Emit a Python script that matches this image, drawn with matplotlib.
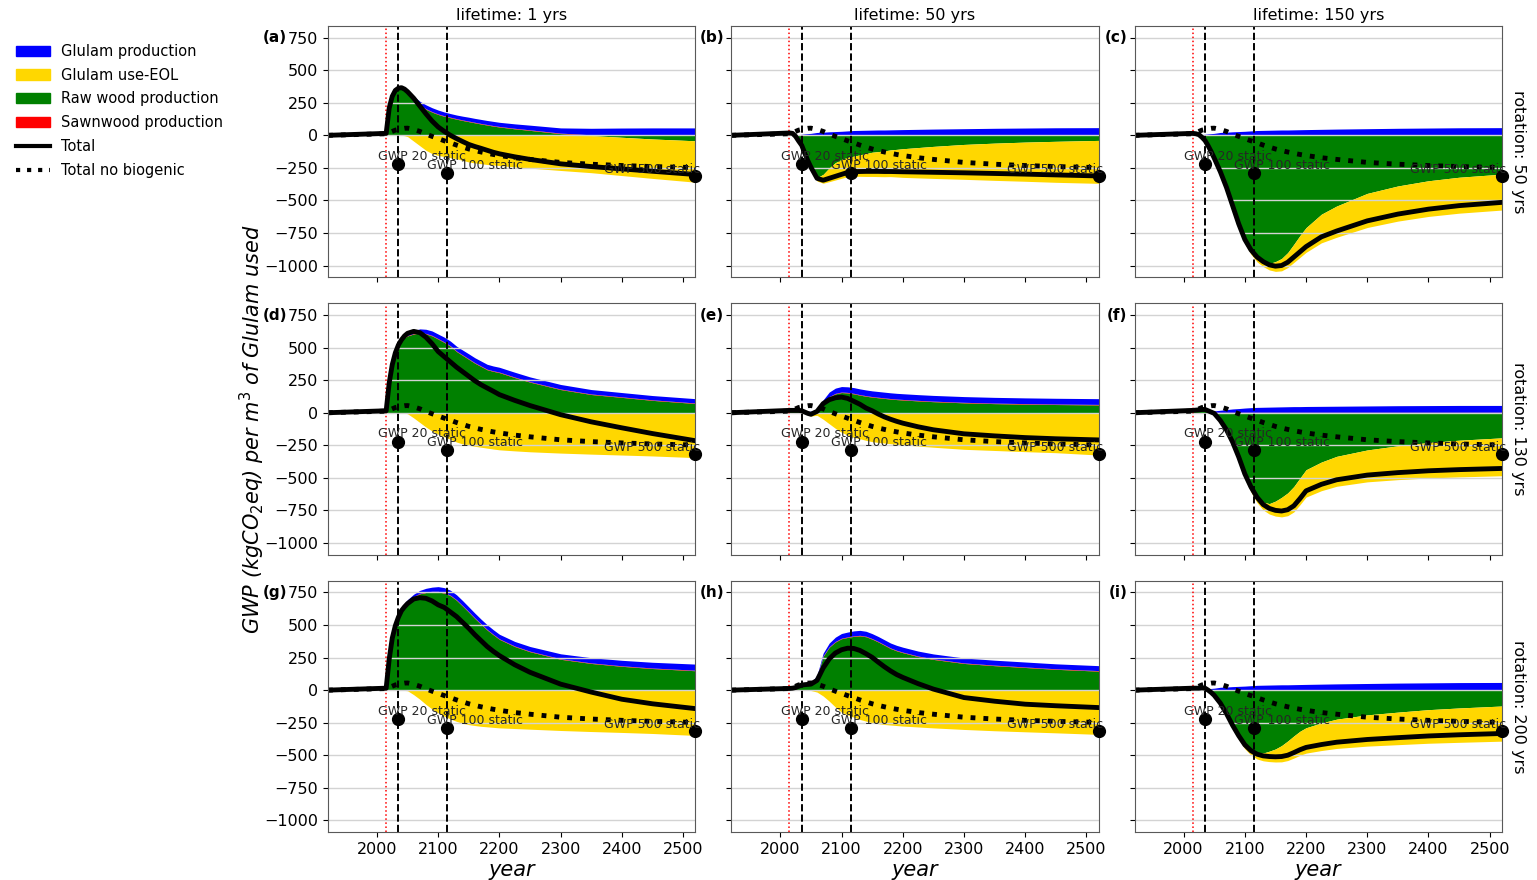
import numpy as np
import matplotlib.pyplot as plt
from matplotlib.patches import Patch
from matplotlib.lines import Line2D

years = [1920, 2015, 2020, 2025, 2030, 2035, 2040, 2045, 2050, 2060, 2070, 2080, 2090,
         2100, 2110, 2120, 2130, 2140, 2150, 2160, 2170, 2180, 2190, 2200, 2225, 2250,
         2300, 2350, 2400, 2450, 2520]

# sawnwood is tiny and the same in every case
sawnwood = [0, 0, 2, 3, 3, 3] + [4] * 25
no_biogenic = [0, 12, 20, 30, 40, 45, 50, 54, 55, 45, 30, 10, -8, -25, -42, -58, -75, -90,
               -105, -117, -128, -138, -147, -155, -172, -185, -208, -222, -232, -240, -248]

# rotation 50 yrs
green_a = [0, 12, 200, 290, 340, 360, 362, 345, 320, 270, 228, 200, 178, 160, 146, 135, 124,
           114, 105, 96, 87, 79, 71, 64, 50, 38, 13, -2, -15, -28, -42]
blue_a = [0, 0, 0, 1, 2, 4, 6, 10, 15, 25, 30, 30, 30, 30, 29, 28, 28, 29, 30, 30, 31, 31,
          32, 32, 34, 36, 40, 50, 52, 53, 53]
yellow_a = [0, 0, 0, 0, 0, 0, 0, -3, -10, -45, -80, -115, -140, -155, -163, -172, -180, -192,
            -205, -212, -218, -224, -228, -232, -243, -252, -270, -285, -294, -303, -318]
total_a = [0, 15, 210, 300, 345, 362, 366, 355, 335, 285, 225, 165, 110, 64, 30, 0, -25, -48,
           -70, -86, -100, -115, -130, -142, -165, -185, -219, -240, -258, -276, -301]

green_b = [0, 12, 10, -12, -50, -85, -145, -200, -255, -325, -300, -250, -210, -185, -170,
           -160, -150, -140, -130, -125, -120, -112, -108, -103, -94, -85, -70, -60, -52, -46, -39]
blue_b = [0, 0, 0, 1, 3, 5, 7, 9, 11, 18, 20, 23, 25, 27, 30, 33, 34, 35, 36, 37, 37, 38, 39,
          40, 42, 44, 47, 50, 52, 54, 55]
yellow_b = [0, 0, 0, 0, 0, 0, 0, -2, -4, -26, -68, -106, -133, -145, -148, -155, -165, -176,
            -186, -192, -198, -205, -212, -220, -233, -246, -268, -286, -301, -315, -330]
total_b = [0, 18, 15, -8, -44, -77, -137, -195, -245, -330, -345, -330, -315, -300, -285, -279,
           -278, -277, -277, -277, -278, -278, -279, -280, -282, -284, -288, -293, -298, -304, -312]

green_c = [0, 15, 10, 1, -21, -48, -91, -138, -190, -299, -419, -557, -694, -811, -888, -940,
           -968, -984, -970, -946, -901, -837, -770, -709, -606, -543, -446, -389, -349, -322, -298]
blue_c = [0, 0, 0, 1, 3, 5, 7, 9, 11, 18, 20, 23, 25, 27, 30, 33, 34, 35, 36, 37, 37, 38, 39,
          40, 42, 44, 47, 50, 52, 54, 55]
yellow_c = [0, 0, 0, 0, 0, 0, 0, 0, 0, -3, -5, -10, -15, -20, -26, -32, -40, -50, -75, -95,
            -115, -140, -168, -190, -220, -240, -262, -270, -274, -276, -276]
total_c = [0, 15, 12, 5, -15, -40, -80, -125, -175, -280, -400, -540, -680, -800, -880, -935,
           -970, -995, -1005, -1000, -975, -935, -895, -855, -780, -735, -657, -605, -567, -540, -515]

# rotation 130 yrs
green_d = [0, 12, 230, 370, 460, 520, 560, 578, 590, 605, 612, 605, 590, 565, 540, 510, 470,
           440, 410, 380, 355, 330, 318, 308, 270, 235, 178, 140, 118, 95, 71]
blue_d = [0, 0, 0, 2, 4, 6, 8, 12, 15, 22, 28, 32, 34, 35, 36, 36, 37, 37, 38, 38, 38, 38, 37,
          37, 37, 36, 35, 34, 33, 33, 33]
yellow_d = [0, 0, 0, 0, 0, 0, 0, -3, -8, -40, -75, -110, -140, -165, -185, -205, -225, -240,
            -250, -258, -265, -272, -279, -285, -293, -300, -310, -318, -325, -332, -345]
total_d = [0, 15, 230, 370, 460, 520, 560, 590, 610, 625, 615, 580, 530, 470, 430, 390, 350,
           315, 280, 245, 215, 190, 165, 139, 95, 55, -15, -70, -116, -160, -215]

green_e = [0, 12, 15, 15, 12, 5, -5, -15, -20, 10, 70, 120, 145, 155, 152, 145, 135, 127, 120,
           115, 110, 105, 101, 98, 91, 85, 76, 70, 66, 63, 60]
blue_e = [0, 0, 0, 1, 2, 3, 4, 6, 8, 15, 25, 35, 40, 42, 43] + [44] * 16
yellow_e = [0, 0, 0, 0, 0, 0, 0, -2, -5, -20, -50, -85, -120, -150, -172, -190, -200, -212,
            -222, -228, -233, -238, -243, -247, -256, -265, -281, -290, -299, -307, -325]
total_e = [0, 18, 18, 18, 18, 15, 5, -5, -12, 10, 70, 100, 115, 120, 110, 88, 65, 36, 15, -10,
           -32, -50, -66, -80, -108, -131, -162, -178, -191, -200, -209]

green_f = [0, 18, 18, 18, 20, 19, 6, -6, -19, -77, -150, -244, -357, -486, -583, -651, -687,
           -698, -679, -650, -616, -567, -502, -438, -379, -335, -286, -254, -229, -211, -193]
blue_f = [0, 0, 0, 1, 2, 3, 5, 7, 10, 15, 20, 25, 28, 32, 35, 37, 38, 39, 40, 41, 42, 43, 43,
          44, 45, 46, 48, 50, 51, 52, 52]
yellow_f = [0, 0, 0, 0, 0, 0, 0, 0, 0, -2, -5, -10, -15, -20, -26, -40, -60, -80, -115, -150,
            -175, -195, -205, -210, -220, -230, -245, -260, -272, -282, -291]
total_f = [0, 18, 20, 22, 25, 25, 15, 5, -5, -60, -131, -225, -340, -470, -570, -650, -705,
           -735, -750, -755, -745, -715, -660, -600, -550, -515, -479, -460, -446, -437, -428]

# rotation 200 yrs
green_g = [0, 12, 240, 400, 500, 570, 620, 655, 680, 715, 740, 750, 755, 755, 745, 725, 690,
           645, 598, 550, 505, 462, 425, 390, 335, 295, 237, 205, 183, 166, 149]
blue_g = [0, 0, 0, 2, 4, 6, 8, 10, 12, 18, 22, 28, 32, 36, 38, 38, 38, 38, 37, 37, 36, 36, 35,
          35, 35, 36, 38, 40, 42, 44, 47]
yellow_g = [0, 0, 0, 0, 0, 0, 0, -2, -5, -35, -70, -110, -145, -175, -200, -222, -240, -255,
            -265, -272, -278, -282, -286, -290, -295, -300, -310, -318, -325, -333, -348]
total_g = [0, 15, 240, 400, 495, 560, 610, 640, 665, 700, 710, 705, 685, 655, 635, 600, 565,
           520, 475, 425, 380, 335, 298, 265, 195, 137, 46, -15, -70, -105, -142]

green_h = [0, 13, 15, 18, 28, 37, 40, 42, 45, 100, 260, 330, 370, 395, 405, 413, 417, 410,
           392, 370, 345, 320, 302, 288, 258, 236, 205, 188, 174, 160, 146]
blue_h = [0, 0, 0, 1, 2, 3, 4, 5, 6, 10, 20, 28, 33, 36, 37] + [38] * 16
yellow_h = [0, 0, 0, 0, 0, 0, 0, -1, -3, -15, -45, -85, -130, -170, -190, -208, -225, -238,
            -250, -258, -264, -268, -272, -276, -283, -290, -302, -312, -320, -328, -340]
total_h = [0, 13, 15, 20, 30, 39, 42, 44, 46, 75, 170, 240, 285, 310, 322, 320, 305, 280, 252,
           215, 180, 148, 120, 98, 50, 8, -57, -85, -108, -120, -134]

green_i = [0, 15, 13, 11, 12, 7, -11, -31, -55, -120, -199, -289, -367, -431, -469, -484, -483,
           -469, -452, -426, -391, -352, -316, -289, -252, -223, -190, -169, -150, -137, -122]
blue_i = [0, 0, 0, 1, 3, 5, 7, 9, 11, 18, 20, 23, 25, 27, 30, 33, 34, 35, 36, 37, 37, 38, 39,
          40, 42, 44, 47, 50, 52, 54, 55]
yellow_i = [0, 0, 0, 0, 0, 0, 0, 0, 0, -2, -5, -8, -12, -20, -30, -45, -60, -80, -100, -125,
            -150, -170, -185, -195, -212, -225, -240, -250, -258, -264, -270]
total_i = [0, 15, 15, 15, 18, 15, 0, -18, -40, -100, -180, -270, -350, -420, -465, -492, -505,
           -510, -512, -510, -500, -480, -458, -440, -418, -400, -379, -365, -352, -343, -333]

lifetimes = [1, 50, 150]
rotations = [50, 130, 200]
letters = ['a', 'b', 'c', 'd', 'e', 'f', 'g', 'h', 'i']

gwp_years = [2035, 2115, 2520]
gwp_static = [-222, -289, -314]
gwp_names = ['GWP 20 static', 'GWP 100 static', 'GWP 500 static']

panels = [
    (green_a, blue_a, yellow_a, total_a),
    (green_b, blue_b, yellow_b, total_b),
    (green_c, blue_c, yellow_c, total_c),
    (green_d, blue_d, yellow_d, total_d),
    (green_e, blue_e, yellow_e, total_e),
    (green_f, blue_f, yellow_f, total_f),
    (green_g, blue_g, yellow_g, total_g),
    (green_h, blue_h, yellow_h, total_h),
    (green_i, blue_i, yellow_i, total_i),
]

C_BLUE, C_YELLOW, C_GREEN, C_RED = '#0000ff', '#ffd700', '#008000', '#ff0000'

fig, axes = plt.subplots(3, 3, figsize=(15.37, 8.8), dpi=100, sharex=True, sharey=True)
fig.subplots_adjust(left=0.2134, right=0.9772, top=0.9705, bottom=0.0545,
                    wspace=0.098, hspace=0.104)

x = np.array(years)
for k, ax in enumerate(axes.flat):
    green, blue, yellow, total = panels[k]
    # stack positive and negative contributions separately
    pos = np.zeros(len(x))
    neg = np.zeros(len(x))
    for vals, col in [(green, C_GREEN), (sawnwood, C_RED), (blue, C_BLUE), (yellow, C_YELLOW)]:
        v = np.array(vals, dtype=float)
        p = np.clip(v, 0, None)
        n = np.clip(v, None, 0)
        ax.fill_between(x, pos, pos + p, color=col, lw=0, zorder=1)
        ax.fill_between(x, neg, neg + n, color=col, lw=0, zorder=1)
        pos += p
        neg += n

    ax.plot(x, total, color='black', lw=3.5, zorder=2.2)
    ax.plot(x, no_biogenic, color='black', lw=3.5, ls=':', zorder=2.4)

    ax.axvline(2015, color='red', ls=':', lw=1.1, zorder=2)
    ax.axvline(2035, color='black', ls='--', lw=1.4, zorder=2)
    ax.axvline(2115, color='black', ls='--', lw=1.4, zorder=2)

    ax.plot(gwp_years, gwp_static, 'o', color='black', ms=8.5, zorder=3, clip_on=False)
    offsets = [(-15, 5.5), (-14.5, 5.3), (-66, 4.6)]
    for gx, gy, name, off in zip(gwp_years, gwp_static, gwp_names, offsets):
        ax.annotate(name, (gx, gy), xytext=off, textcoords='offset points',
                    ha='left', va='center', fontsize=9, color='0.15', zorder=3)

    ax.set_xlim(1920, 2520)
    ax.set_ylim(-1090, 840)
    ax.set_yticks(np.arange(-1000, 751, 250))
    ax.set_xticks(np.arange(2000, 2501, 100))
    ax.yaxis.grid(True, color='#d3d3d3', lw=1)
    ax.tick_params(labelsize=11.5)
    for s in ax.spines.values():
        s.set_color('0.35')

    row, col = divmod(k, 3)
    lx = -0.112 if col == 0 else -0.02
    ax.text(lx, 750, '(%s)' % letters[k], transform=ax.get_yaxis_transform(),
            ha='right', va='center', fontsize=11, fontweight='bold')
    if row == 0:
        ax.set_title('lifetime: %d yrs' % lifetimes[col], fontsize=11.5, pad=4)
    if row == 2:
        ax.set_xlabel('year', fontsize=15, style='italic', labelpad=2)
    if col == 2:
        ax.text(1.045, 0.5, 'rotation: %d yrs' % rotations[row], transform=ax.transAxes,
                rotation=270, ha='center', va='center', fontsize=11.5)

fig.text(0.1645, 0.5125, 'GWP (kgCO$_2$eq) per m$^3$ of Glulam used', rotation=90,
         ha='center', va='center', fontsize=15, style='italic')

handles = [Patch(color=C_BLUE), Patch(color=C_YELLOW), Patch(color=C_GREEN), Patch(color=C_RED),
           Line2D([], [], color='black', lw=3), Line2D([], [], color='black', lw=3, ls=':')]
labels = ['Glulam production', 'Glulam use-EOL', 'Raw wood production',
          'Sawnwood production', 'Total', 'Total no biogenic']
fig.legend(handles, labels, loc='upper left', bbox_to_anchor=(0.002, 0.965), frameon=False,
           fontsize=10.5, handlelength=2.3, labelspacing=0.6)

fig.savefig('out.png', dpi=100)
